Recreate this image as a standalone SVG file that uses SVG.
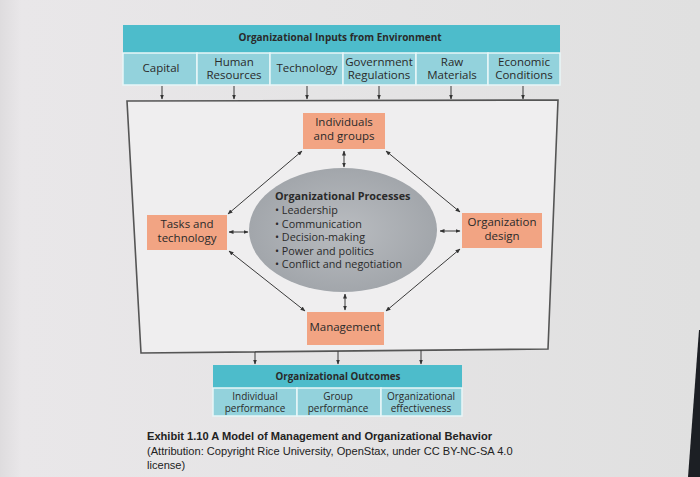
<svg xmlns="http://www.w3.org/2000/svg" width="700" height="477" viewBox="0 0 700 477">
<defs>
<marker id="ah" viewBox="0 0 10 10" refX="9" refY="5" markerWidth="5" markerHeight="5" orient="auto-start-reverse" markerUnits="strokeWidth">
<path d="M0,1 L10,5 L0,9 z" fill="#333"/>
</marker>
<radialGradient id="eg" cx="0.5" cy="0.5" r="0.5">
<stop offset="0" stop-color="#b9bcc0"/>
<stop offset="1" stop-color="#a2a6ab"/>
</radialGradient>
<linearGradient id="bg" x1="0" y1="0" x2="1" y2="0">
<stop offset="0" stop-color="#dedcde"/>
<stop offset="0.03" stop-color="#e9e7e9"/>
<stop offset="1" stop-color="#e0e0e0"/>
</linearGradient>
</defs>
<style>
.t{font-family:"Open Sans","Noto Sans","DejaVu Sans",sans-serif;fill:#2a2a2a;text-anchor:middle}
.s{text-anchor:start}
.it{font-size:11.5px}
.b{font-weight:bold}
.head{fill:#4dbccb}
.cell{fill:#93d2dc;stroke:#e8f6f8;stroke-width:1.5}
.org{fill:#f2a483}
.c{stroke:#3a3a3a;stroke-width:1;fill:none}
.cap{font-family:"Liberation Sans",Arial,sans-serif;fill:#222}
</style>
<rect x="0" y="0" width="700" height="477" fill="url(#bg)"/>
<polygon points="699,330 700,330 700,477 688,477" fill="#1c1f24"/>

<g id="container">
<polygon points="127,101 558,100 548,349 141,353" fill="#efeeef" stroke="#555" stroke-width="1.6"/>
</g>

<g id="inputs">
<rect class="head" x="123" y="25" width="437" height="28"/>
<text class="t b" x="340" y="41" font-size="10">Organizational Inputs from Environment</text>
<rect class="cell" x="123" y="53" width="74" height="32"/>
<rect class="cell" x="197" y="53" width="73" height="32"/>
<rect class="cell" x="270" y="53" width="73" height="32"/>
<rect class="cell" x="343" y="53" width="73" height="32"/>
<rect class="cell" x="416" y="53" width="72" height="32"/>
<rect class="cell" x="488" y="53" width="72" height="32"/>
<text class="t it" x="161" y="72">Capital</text>
<text class="t it" x="234" y="66">Human<tspan x="234" dy="13">Resources</tspan></text>
<text class="t it" x="307" y="72">Technology</text>
<text class="t it" x="379" y="66">Government<tspan x="379" dy="13">Regulations</tspan></text>
<text class="t it" x="452" y="66">Raw<tspan x="452" dy="13">Materials</tspan></text>
<text class="t it" x="524" y="66">Economic<tspan x="524" dy="13">Conditions</tspan></text>
</g>

<g id="individuals">
<rect class="org" x="303" y="113" width="82" height="36"/>
<text class="t" x="344" y="126" font-size="11.5">Individuals<tspan x="344" dy="14">and groups</tspan></text>
</g>

<g id="tasks">
<rect class="org" x="147" y="215" width="80" height="35"/>
<text class="t" x="187" y="228" font-size="11.5">Tasks and<tspan x="187" dy="14">technology</tspan></text>
</g>

<g id="design">
<rect class="org" x="462" y="213" width="80" height="35"/>
<text class="t" x="502" y="226" font-size="11.5">Organization<tspan x="502" dy="14">design</tspan></text>
</g>

<g id="management">
<rect class="org" x="307" y="312" width="77" height="33"/>
<text class="t" x="345" y="331" font-size="11.5">Management</text>
</g>

<g id="processes">
<ellipse cx="343" cy="230" rx="94" ry="62" fill="url(#eg)"/>
<text class="t s" x="275" y="200" font-size="10.8"><tspan font-weight="bold">Organizational Processes</tspan><tspan x="275" dy="14">• Leadership</tspan><tspan x="275" dy="13.5">• Communication</tspan><tspan x="275" dy="13.5">• Decision-making</tspan><tspan x="275" dy="14">• Power and politics</tspan><tspan x="275" dy="13">• Conflict and negotiation</tspan></text>
</g>

<g id="outcomes">
<rect class="head" x="213" y="365" width="249" height="23"/>
<text class="t b" x="338" y="380" font-size="9.8">Organizational Outcomes</text>
<rect class="cell" x="213" y="388" width="84" height="28"/>
<rect class="cell" x="297" y="388" width="84" height="28"/>
<rect class="cell" x="381" y="388" width="81" height="28"/>
<text class="t" x="255" y="399.5" font-size="10">Individual<tspan x="255" dy="12.5">performance</tspan></text>
<text class="t" x="338" y="399.5" font-size="10">Group<tspan x="338" dy="12.5">performance</tspan></text>
<text class="t" x="421" y="399.5" font-size="10">Organizational<tspan x="421" dy="12.5">effectiveness</tspan></text>
</g>

<g id="connectors">
<line class="c" x1="162" y1="86" x2="162" y2="99" marker-end="url(#ah)"/>
<line class="c" x1="234" y1="86" x2="234" y2="99" marker-end="url(#ah)"/>
<line class="c" x1="307" y1="86" x2="307" y2="99" marker-end="url(#ah)"/>
<line class="c" x1="379" y1="86" x2="379" y2="99" marker-end="url(#ah)"/>
<line class="c" x1="451" y1="86" x2="451" y2="99" marker-end="url(#ah)"/>
<line class="c" x1="523" y1="86" x2="523" y2="99" marker-end="url(#ah)"/>

<line class="c" x1="344" y1="151" x2="344" y2="167" marker-start="url(#ah)" marker-end="url(#ah)"/>
<line class="c" x1="229" y1="232" x2="248" y2="232" marker-start="url(#ah)" marker-end="url(#ah)"/>
<line class="c" x1="440" y1="231" x2="460" y2="231" marker-start="url(#ah)" marker-end="url(#ah)"/>
<line class="c" x1="345" y1="294" x2="345" y2="310" marker-start="url(#ah)" marker-end="url(#ah)"/>

<line class="c" x1="228" y1="214" x2="302" y2="151" marker-start="url(#ah)" marker-end="url(#ah)"/>
<line class="c" x1="386" y1="151" x2="460" y2="212" marker-start="url(#ah)" marker-end="url(#ah)"/>
<line class="c" x1="229" y1="251" x2="305" y2="311" marker-start="url(#ah)" marker-end="url(#ah)"/>
<line class="c" x1="460" y1="249" x2="386" y2="311" marker-start="url(#ah)" marker-end="url(#ah)"/>

<line class="c" x1="255" y1="352" x2="255" y2="364" marker-end="url(#ah)"/>
<line class="c" x1="338" y1="351" x2="338" y2="364" marker-end="url(#ah)"/>
<line class="c" x1="421" y1="350" x2="421" y2="364" marker-end="url(#ah)"/>
</g>

<g id="caption">
<text class="cap" x="147" y="440" font-size="11.1" font-weight="bold">Exhibit 1.10 A Model of Management and Organizational Behavior</text>
<text class="cap" x="147" y="455" font-size="11.1">(Attribution: Copyright Rice University, OpenStax, under CC BY-NC-SA 4.0<tspan x="147" dy="14">license)</tspan></text>
</g>
</svg>
